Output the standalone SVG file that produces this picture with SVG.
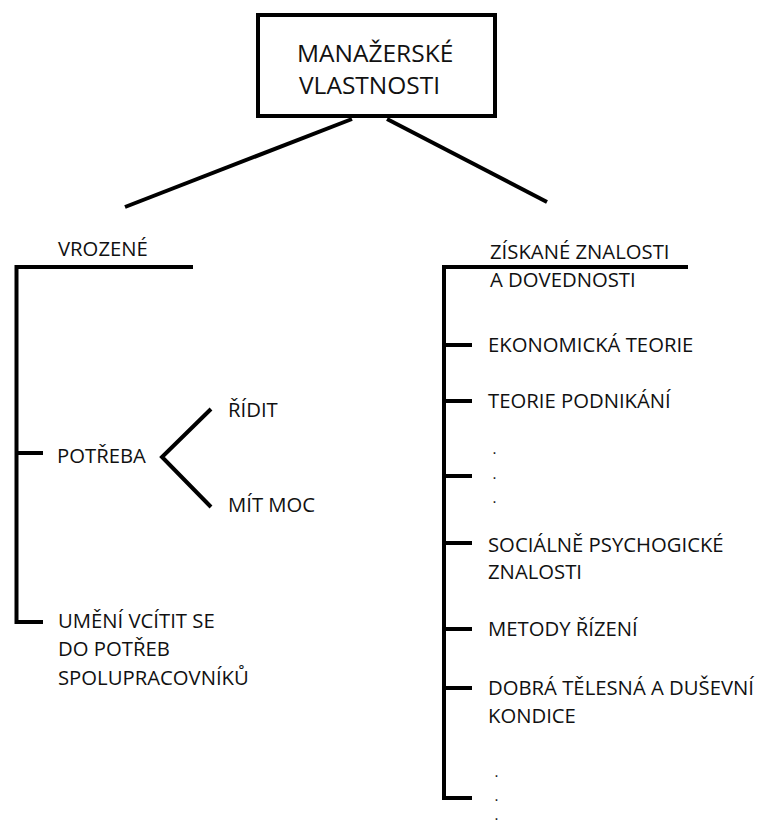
<svg xmlns="http://www.w3.org/2000/svg" width="765" height="824" viewBox="0 0 765 824">
<style>
.t{font-family:"Open Sans","Noto Sans","DejaVu Sans",sans-serif;font-size:20.3px;fill:#111}
.h{font-size:24.5px}
.d{font-family:"Open Sans","Noto Sans","DejaVu Sans",sans-serif;font-size:15px;fill:#111}
.ln{stroke:#000;stroke-width:4;fill:none}
</style>
<rect width="765" height="824" fill="#fff"/>
<g id="connectors">
<line class="ln" x1="352" y1="119" x2="125" y2="207"/>
<line class="ln" x1="387" y1="119" x2="547" y2="202"/>
<polyline class="ln" points="193,267 16.5,267 16.5,622 43,622"/>
<line class="ln" x1="16.5" y1="453" x2="43" y2="453"/>
<polyline class="ln" points="211,409 162,457 211,507"/>
<polyline class="ln" points="688,267 444,267 444,798 472,798"/>
<line class="ln" x1="444" y1="345" x2="472" y2="345"/>
<line class="ln" x1="444" y1="401" x2="472" y2="401"/>
<line class="ln" x1="444" y1="476" x2="472" y2="476"/>
<line class="ln" x1="444" y1="543" x2="472" y2="543"/>
<line class="ln" x1="444" y1="629" x2="472" y2="629"/>
<line class="ln" x1="444" y1="688" x2="472" y2="688"/>
</g>
<g id="root">
<rect class="ln" x="258" y="15" width="237" height="101"/>
<text class="t h" x="297" y="62">MANAŽERSKÉ</text>
<text class="t h" x="299" y="94">VLASTNOSTI</text>
</g>
<g id="vrozene"><text class="t" x="58" y="256">VROZENÉ</text></g>
<g id="potreba"><text class="t" x="57" y="463">POTŘEBA</text></g>
<g id="ridit"><text class="t" x="228" y="417">ŘÍDIT</text></g>
<g id="mitmoc"><text class="t" x="228" y="512">MÍT MOC</text></g>
<g id="umeni"><text class="t" x="58" y="628">UMĚNÍ VCÍTIT SE</text><text class="t" x="58" y="656">DO POTŘEB</text><text class="t" x="58" y="685">SPOLUPRACOVNÍKŮ</text></g>
<g id="ziskane"><text class="t" x="490" y="259">ZÍSKANÉ ZNALOSTI</text><text class="t" x="490" y="287">A DOVEDNOSTI</text></g>
<g id="ekon"><text class="t" x="488" y="352">EKONOMICKÁ TEORIE</text></g>
<g id="podn"><text class="t" x="488" y="408">TEORIE PODNIKÁNÍ</text></g>
<g id="dots1"><text class="d" x="492.5" y="454">.</text><text class="d" x="492.5" y="479">.</text><text class="d" x="492.5" y="503">.</text></g>
<g id="soc"><text class="t" x="488" y="552">SOCIÁLNĚ PSYCHOGICKÉ</text><text class="t" x="488" y="579">ZNALOSTI</text></g>
<g id="metody"><text class="t" x="488" y="636">METODY ŘÍZENÍ</text></g>
<g id="dobra"><text class="t" x="488" y="695">DOBRÁ TĚLESNÁ A DUŠEVNÍ</text><text class="t" x="488" y="723">KONDICE</text></g>
<g id="dots2"><text class="d" x="494.5" y="777">.</text><text class="d" x="494.5" y="801">.</text><text class="d" x="494.5" y="820">.</text></g>
</svg>
